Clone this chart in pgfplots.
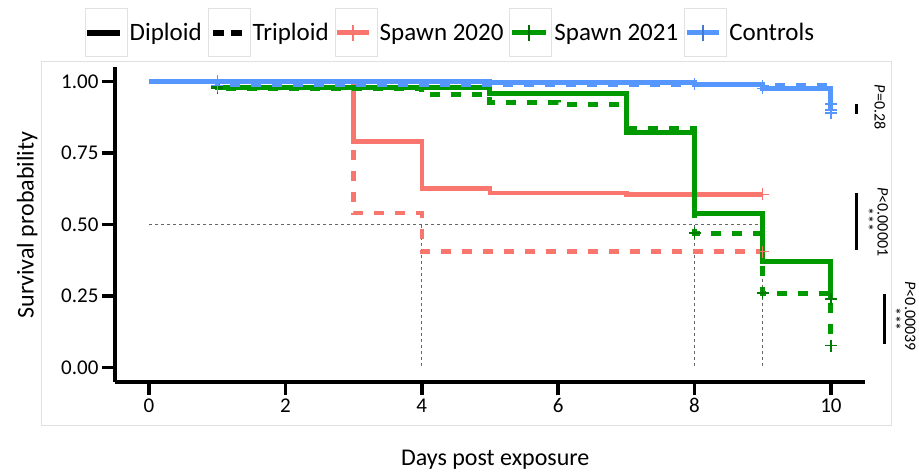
\documentclass[border=0pt]{standalone}
\usepackage{pgfplots}
\pgfplotsset{compat=1.18}
\usepackage{fontspec}
\setmainfont{Carlito}
\definecolor{salmon}{RGB}{248,118,109}
\definecolor{sgreen}{RGB}{0,153,0}
\definecolor{sblue}{RGB}{85,150,255}
\definecolor{keybox}{RGB}{225,225,225}
\begin{document}
\begin{tikzpicture}
\begin{axis}[
  scale only axis, width=750pt, height=315pt,
  xmin=-0.5, xmax=10.5, ymin=-0.05, ymax=1.05,
  axis lines=left,
  axis line style={line width=3.5pt,-},
  every tick/.style={black, line width=3.5pt},
  major tick length=13pt,
  tick align=outside,
  xtick={0,2,4,6,8,10},
  ytick={0,0.25,0.5,0.75,1},
  yticklabel style={/pgf/number format/.cd, fixed, fixed zerofill, precision=2},
  /pgf/number format/assume math mode=true,
  ticklabel style={font=\fontsize{21}{21}\selectfont},
  xlabel={Days post exposure},
  ylabel={Survival probability},
  label style={font=\fontsize{24}{24}\selectfont},
  xlabel style={at={(axis description cs:0.507,-0.248)}, anchor=center},
  ylabel style={at={(axis description cs:-0.117,0.498)}, anchor=center},
  clip=false,
  legend columns=5,
  legend style={at={(axis description cs:0.447,1.108)}, anchor=center, draw=none, fill=none,
    font=\fontsize{25}{25}\selectfont,
    /tikz/every even column/.append style={column sep=4pt}},
]
% page frame and panel border
\path (axis description cs:-0.1533,-0.2952) rectangle (axis description cs:1.072,1.2127);
\draw[black!12, line width=1pt] (axis description cs:-0.0973,-0.1365) rectangle (axis description cs:1.036,1.0159);
% legend keys
\addlegendimage{legend image code/.code={\draw[keybox,line width=1pt] (-2pt,-24pt) rectangle (40pt,24pt); \draw[black,line width=5.5pt] (0pt,0pt)--(33pt,0pt);}}
\addlegendentry{Diploid}
\addlegendimage{legend image code/.code={\draw[keybox,line width=1pt] (-2pt,-24pt) rectangle (40pt,24pt); \draw[black,line width=5.5pt,dash pattern=on 11pt off 7pt] (3pt,0pt)--(33pt,0pt);}}
\addlegendentry{Triploid}
\addlegendimage{legend image code/.code={\draw[keybox,line width=1pt] (-2pt,-24pt) rectangle (40pt,24pt); \draw[salmon,line width=5pt] (0pt,0pt)--(32pt,0pt); \draw[salmon,line width=1.5pt] (16pt,-8pt)--(16pt,8pt);}}
\addlegendentry{Spawn 2020}
\addlegendimage{legend image code/.code={\draw[keybox,line width=1pt] (-2pt,-24pt) rectangle (40pt,24pt); \draw[sgreen,line width=5pt] (0pt,0pt)--(34pt,0pt); \draw[sgreen!70!black,line width=1.5pt] (17pt,-8pt)--(17pt,8pt);}}
\addlegendentry{Spawn 2021}
\addlegendimage{legend image code/.code={\draw[keybox,line width=1pt] (-2pt,-24pt) rectangle (40pt,24pt); \draw[sblue,line width=5pt] (0pt,0pt)--(32pt,0pt); \draw[sblue!80!black,line width=1.5pt] (16pt,-8pt)--(16pt,8pt);}}
\addlegendentry{Controls}

% median reference lines
\addplot[forget plot, black!60, line width=1pt, dash pattern=on 3pt off 3pt] coordinates {(0,0.5) (9,0.5)};
\addplot[forget plot, black!60, line width=1pt, dash pattern=on 3pt off 3pt] coordinates {(4,0.5) (4,0)};
\addplot[forget plot, black!60, line width=1pt, dash pattern=on 3pt off 3pt] coordinates {(8,0.5) (8,0)};
\addplot[forget plot, black!60, line width=1pt, dash pattern=on 3pt off 3pt] coordinates {(9,0.5) (9,0)};

% Spawn 2020
\addplot[forget plot, const plot, salmon, line width=4.5pt] coordinates {(0,1) (3,0.79) (4,0.625) (5,0.61) (7,0.605) (9,0.605)};
\addplot[forget plot, const plot, salmon, line width=4.5pt, dash pattern=on 10pt off 11pt] coordinates {(0,1) (3,0.54) (4,0.405) (9,0.405)};
\addplot[forget plot, only marks, mark=+, mark size=6pt, salmon, line width=1.5pt] coordinates {(9,0.605) (9,0.405)};

% Spawn 2021
\addplot[forget plot, const plot, sgreen, line width=5pt] coordinates {(0,1) (1,0.98) (5,0.958) (7,0.82) (8,0.54) (9,0.37) (10,0.235)};
\addplot[forget plot, const plot, sgreen, line width=5pt, dash pattern=on 10pt off 11pt] coordinates {(0,1) (1,0.975) (4,0.955) (5,0.927) (6,0.92) (7,0.834) (8,0.47) (9,0.26) (10,0.077)};
\addplot[forget plot, only marks, mark=+, mark size=6pt, sgreen!80!black, line width=1.5pt] coordinates {(1,0.975) (1,0.98) (8,0.47) (9,0.26) (10,0.24) (10,0.077)};

% Controls
\addplot[forget plot, const plot, sblue, line width=5pt] coordinates {(0,1) (5,0.995) (8,0.99) (9,0.975) (10,0.895)};
\addplot[forget plot, const plot, sblue, line width=5pt, dash pattern=on 10pt off 11pt] coordinates {(0,1) (1,0.988) (9,0.985) (10,0.985)};
\addplot[forget plot, only marks, mark=+, mark size=6pt, sblue, line width=1.5pt] coordinates {(1,1) (1,0.985) (8,0.99) (9,0.975) (9,0.985) (10,0.92) (10,0.90) (10,0.89)};

% p-value annotations
\draw[black, line width=3pt] (axis cs:10.37,0.886) -- (axis cs:10.37,0.92);
\node[rotate=-90, font=\fontsize{16}{16}\selectfont] at (axis cs:10.72,0.91) {\textit{P}=0.28};
\draw[black, line width=3pt] (axis cs:10.37,0.412) -- (axis cs:10.37,0.609);
\node[rotate=-90, font=\fontsize{16}{16}\selectfont] at (axis cs:10.54,0.516) {***};
\node[rotate=-90, font=\fontsize{16}{16}\selectfont] at (axis cs:10.76,0.509) {\textit{P}<0.00001};
\draw[black, line width=3pt] (axis cs:10.78,0.083) -- (axis cs:10.78,0.256);
\node[rotate=-90, font=\fontsize{16}{16}\selectfont] at (axis cs:10.94,0.17) {***};
\node[rotate=-90, font=\fontsize{16}{16}\selectfont] at (axis cs:11.165,0.18) {\textit{P}<0.00039};
\end{axis}
\end{tikzpicture}
\end{document}
